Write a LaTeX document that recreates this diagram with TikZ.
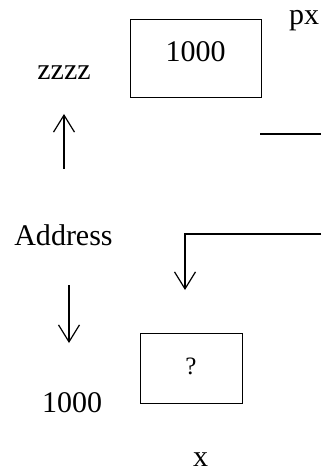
\documentclass[tikz,border=0pt]{standalone}
\usepackage{fontspec}
\setmainfont{Liberation Serif}
\usetikzlibrary{arrows.meta}
\begin{document}
\begin{tikzpicture}[x=1bp,y=-1bp,
  txt/.style={font=\fontsize{30bp}{36bp}\selectfont, inner sep=0pt, anchor=base},
  boxnode/.style={draw, line width=1bp, inner xsep=0pt, inner ysep=0pt, anchor=base},
  conn/.style={line width=1.2bp},
  arr/.style={conn, -{Straight Barb[length=17bp,width=21bp,line width=1.2bp]}}]
\useasboundingbox (0,0) rectangle (321,470);
% boxes
\node[boxnode, minimum width=131bp, text height=42bp, text depth=36bp,
      font=\fontsize{30bp}{36bp}\selectfont] (box1) at (195.5,62) {1000};
\node[boxnode, minimum width=102bp, text height=41bp, text depth=29bp,
      font=\fontsize{25bp}{30bp}\selectfont] (box2) at (191,374) {?};
% labels
\node[txt] (px) at (304,25) {px};
\node[txt] (zzzz) at (64,80) {zzzz};
\node[txt] (addr) at (63.5,245) {Address};
\node[txt] (val) at (72,412) {1000};
\node[txt] (xl) at (200.5,466) {x};
% connector ends
\coordinate (upS) at (64,169);
\coordinate (upE) at (64,114);
\coordinate (dnS) at (69,285);
\coordinate (dnE) at (69,343);
\coordinate (hA) at (260,134);
\coordinate (hB) at (321,134);
\coordinate (bA) at (321,234);
\coordinate (bC) at (185,234);
\coordinate (bE) at (185,290);
% connectors
\draw[arr] (upS) -- (upE);
\draw[arr] (dnS) -- (dnE);
\draw[conn] (hA) -- (hB);
\draw[arr] (bA) -- (bC) -- (bE);
\end{tikzpicture}
\end{document}
